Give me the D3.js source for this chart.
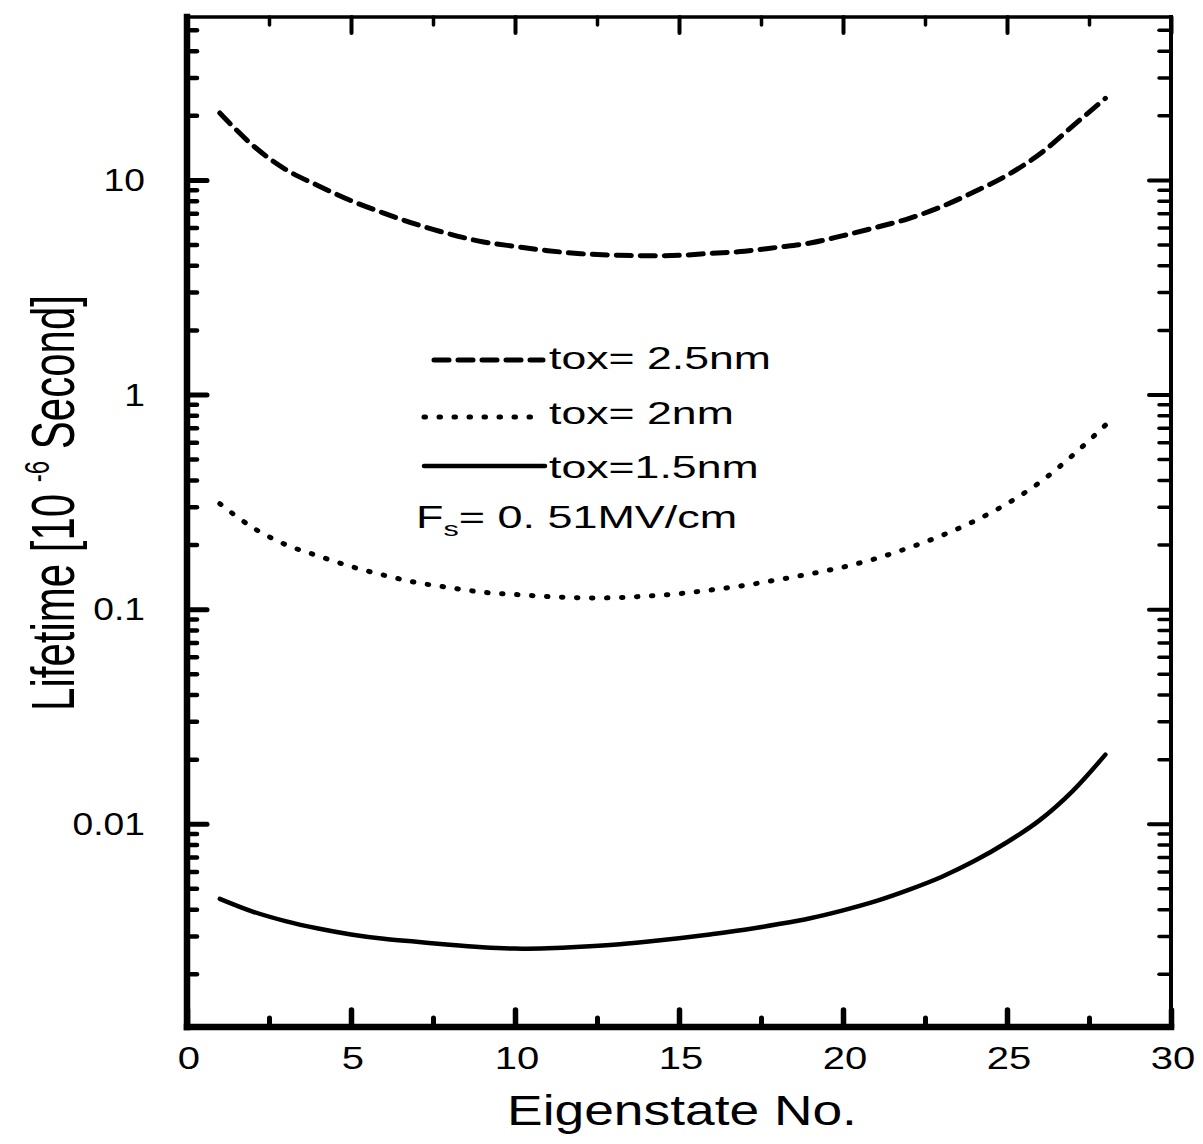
<!DOCTYPE html>
<html>
<head>
<meta charset="utf-8">
<script src="https://cdn.jsdelivr.net/npm/d3@7"></script>
<style>
  html, body { margin: 0; padding: 0; background: #fff; }
  svg { display: block; }
  text { font-family: "Liberation Sans", Arial, sans-serif; fill: #000; }
</style>
</head>
<body>
<div id="chart"></div>
<script>
// eigenstate index on the x axis
const eigenstate = [1, 2, 3, 4, 5, 6, 7, 8, 9, 10, 11, 12, 13, 14,
  15, 16, 17, 18, 19, 20, 21, 22, 23, 24, 25, 26, 27, 28];

// lifetime in 10^-6 s
const tox25 = [20.5, 14.5, 11.2, 9.4, 8.0, 7.0, 6.2, 5.6, 5.15, 4.9, 4.68, 4.53, 4.46, 4.43,
  4.45, 4.55, 4.65, 4.85, 5.08, 5.5, 6.0, 6.6, 7.5, 8.8, 10.5, 13.2, 17.8, 24.0];
const tox20 = [0.31, 0.24, 0.20, 0.177, 0.158, 0.144, 0.133, 0.126, 0.120, 0.117, 0.1145, 0.113, 0.113, 0.115,
  0.118, 0.123, 0.129, 0.137, 0.146, 0.157, 0.172, 0.193, 0.22, 0.257, 0.31, 0.39, 0.52, 0.72];
const tox15 = [0.00447, 0.0039, 0.00352, 0.00325, 0.00305, 0.00291, 0.00282, 0.00273, 0.00266, 0.00262, 0.00263, 0.00267, 0.00273, 0.00282,
  0.00293, 0.00306, 0.00321, 0.0034, 0.00363, 0.00395, 0.00436, 0.00492, 0.00565, 0.0067, 0.0082, 0.0104, 0.0142, 0.021];

const xTicks = [0, 5, 10, 15, 20, 25, 30];
const xMinor = [2.5, 7.5, 12.5, 17.5, 22.5, 27.5];
const yTicks = [0.01, 0.1, 1, 10];
const yTickLabels = ["0.01", "0.1", "1", "10"];

const legendLabels = ["tox= 2.5nm", "tox= 2nm", "tox=1.5nm"];

const width = 1203, height = 1144;
const margin = { top: 17, right: 32, bottom: 117, left: 187 };

const svg = d3.select('#chart').append('svg')
  .attr('width', width)
  .attr('height', height);

const x = d3.scaleLinear().domain([0, 30]).range([margin.left, width - margin.right]);
const y = d3.scaleLog().domain([0.00113, 57.4]).range([height - margin.bottom, margin.top]);

const x0 = x.range()[0], x1 = x.range()[1];
const y0 = y.range()[0], y1 = y.range()[1];

// minor log ticks: 2..9 of each decade inside the domain
const yMinor = [];
[0.001, 0.01, 0.1, 1, 10].forEach(d => {
  for (let k = 2; k <= 9; k++) {
    const v = d * k;
    if (v > y.domain()[0] && v < y.domain()[1]) yMinor.push(v);
  }
});

function drawAxis(axis, tx, ty, sw) {
  const g = svg.append('g')
    .attr('transform', `translate(${tx},${ty})`)
    .call(axis);
  g.select('.domain').remove();
  g.selectAll('text').remove();
  g.selectAll('line')
    .attr('stroke', '#000')
    .attr('stroke-width', sw)
    .attr('stroke-linecap', 'round');
  return g;
}

// left axis ticks (inward)
drawAxis(d3.axisLeft(y).tickValues(yTicks).tickSize(-20), x0, 0, 5);
drawAxis(d3.axisLeft(y).tickValues(yMinor).tickSize(-10), x0, 0, 4.5);
// right axis ticks (inward)
drawAxis(d3.axisRight(y).tickValues(yTicks).tickSize(-22), x1, 0, 4);
drawAxis(d3.axisRight(y).tickValues(yMinor).tickSize(-12), x1, 0, 3.5);
// bottom axis ticks (inward)
drawAxis(d3.axisBottom(x).tickValues(xTicks).tickSize(-17), 0, y0, 5.5);
drawAxis(d3.axisBottom(x).tickValues(xMinor).tickSize(-9), 0, y0, 5);
// top axis ticks (inward)
drawAxis(d3.axisTop(x).tickValues(xTicks).tickSize(-16), 0, y1, 4);
drawAxis(d3.axisTop(x).tickValues(xMinor).tickSize(-8), 0, y1, 3.5);

// frame
const frame = svg.append('g').attr('stroke', '#000').attr('stroke-linecap', 'square');
frame.append('line').attr('x1', x0).attr('x2', x0).attr('y1', y1).attr('y2', y0).attr('stroke-width', 6.5);
frame.append('line').attr('x1', x0).attr('x2', x1).attr('y1', y0).attr('y2', y0).attr('stroke-width', 6.5);
frame.append('line').attr('x1', x0).attr('x2', x1).attr('y1', y1).attr('y2', y1).attr('stroke-width', 3.5);
frame.append('line').attr('x1', x1).attr('x2', x1).attr('y1', y1).attr('y2', y0).attr('stroke-width', 4);

// tick labels
yTicks.forEach((v, i) => {
  svg.append('text')
    .attr('transform', `translate(${x0 - 42},${y(v) + 11}) scale(1.2,1)`)
    .attr('text-anchor', 'end')
    .style('font-size', '31px')
    .text(yTickLabels[i]);
});
xTicks.forEach(v => {
  svg.append('text')
    .attr('transform', `translate(${x(v) + 2},${y0 + 42}) scale(1.25,1)`)
    .attr('text-anchor', 'middle')
    .style('font-size', '32px')
    .text(v);
});

// axis titles
svg.append('text')
  .attr('transform', `translate(${(x0 + x1) / 2 + 3},${y0 + 98}) scale(1.27,1)`)
  .attr('text-anchor', 'middle')
  .style('font-size', '42px')
  .text('Eigenstate No.');

const yt = svg.append('text')
  .attr('transform', `translate(74,503) scale(1.45,1) rotate(-90)`)
  .attr('text-anchor', 'middle')
  .style('font-size', '42px');
yt.append('tspan').text('Lifetime [10 ');
yt.append('tspan').attr('dy', -17).style('font-size', '24px').text('-6');
yt.append('tspan').attr('dy', 17).text(' Second]');

// curves
const series = [
  { values: tox25, dash: '15 9', width: 5 },
  { values: tox20, dash: '1.5 13.5', width: 5 },
  { values: tox15, dash: null, width: 4.5 }
];

const line = d3.line()
  .x((d, i) => x(eigenstate[i]))
  .y(d => y(d))
  .curve(d3.curveCatmullRom.alpha(0.5));

series.forEach(s => {
  svg.append('path')
    .datum(s.values)
    .attr('d', line)
    .attr('fill', 'none')
    .attr('stroke', '#000')
    .attr('stroke-width', s.width)
    .attr('stroke-linecap', 'round')
    .attr('stroke-dasharray', s.dash);
});

// legend
const legendRows = [
  { lx1: 434, lx2: 543, ly: 360, ty: 369 },
  { lx1: 424, lx2: 540, ly: 417, ty: 424 },
  { lx1: 424, lx2: 545, ly: 466, ty: 478 }
];
legendRows.forEach((r, i) => {
  svg.append('line')
    .attr('x1', r.lx1).attr('x2', r.lx2)
    .attr('y1', r.ly).attr('y2', r.ly)
    .attr('stroke', '#000')
    .attr('stroke-width', series[i].width)
    .attr('stroke-linecap', 'round')
    .attr('stroke-dasharray', series[i].dash);
  svg.append('text')
    .attr('transform', `translate(549,${r.ty}) scale(1.44,1)`)
    .style('font-size', '31px')
    .text(legendLabels[i]);
});

const fs = svg.append('text')
  .attr('transform', `translate(416,528) scale(1.45,1)`)
  .style('font-size', '31px');
fs.append('tspan').text('F');
fs.append('tspan').attr('dy', 8).style('font-size', '21px').text('s');
fs.append('tspan').attr('dy', -8).text('= 0. 51MV/cm');
</script>
</body>
</html>
